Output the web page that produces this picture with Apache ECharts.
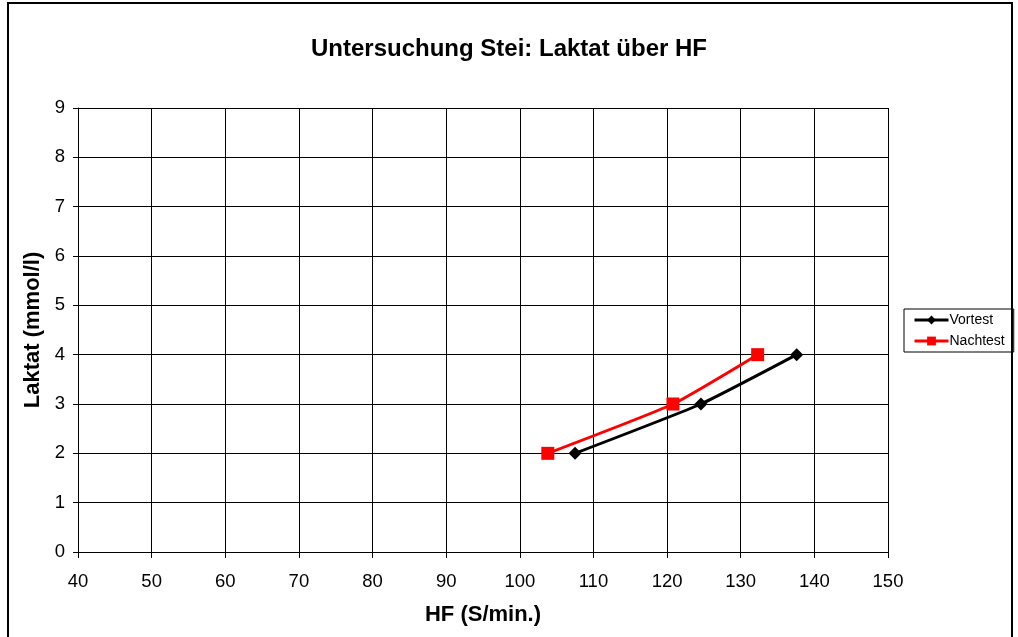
<!DOCTYPE html>
<html>
<head>
<meta charset="utf-8">
<script src="https://cdn.jsdelivr.net/npm/echarts@6/dist/echarts.min.js"></script>
<style>
  html, body { margin: 0; padding: 0; background: #fff; }
  #frame { position: absolute; left: 7px; top: 2px; width: 1006px; height: 650px; border: 2px solid #000; box-sizing: border-box; }
  #chart { position: absolute; left: 0; top: 0; width: 1018px; height: 637px; }
</style>
</head>
<body>
<div id="frame"></div>
<div id="chart"></div>
<script>
// Heart rate (S/min.) and lactate (mmol/l) for both test runs
const vortestHF = [107.5, 124.6, 137.6];
const vortestLaktat = [2, 3, 4];
const nachtestHF = [103.8, 120.8, 132.3];
const nachtestLaktat = [2, 3, 4];
const seriesNames = ['Vortest', 'Nachtest'];
const titleText = 'Untersuchung Stei: Laktat über HF';
const xName = 'HF (S/min.)';
const yName = 'Laktat (mmol/l)';

const font = 'Arial, "Liberation Sans", sans-serif';
const pairs = (xs, ys) => xs.map((x, i) => [x, ys[i]]);

const chart = echarts.init(document.getElementById('chart'), null, { renderer: 'canvas' });
chart.setOption({
  backgroundColor: 'transparent',
  animation: false,
  title: {
    text: titleText,
    left: 'center',
    top: 32,
    textStyle: { fontFamily: font, fontSize: 24, fontWeight: 'bold', color: '#000' }
  },
  legend: {
    left: 904,
    top: 309,
    orient: 'vertical',
    itemWidth: 34,
    itemHeight: 11,
    itemGap: 7,
    padding: [4, 9, 4, 9],
    borderColor: '#000',
    borderWidth: 1,
    borderRadius: 0,
    lineStyle: { width: 3 },
    textStyle: { fontFamily: font, fontSize: 14, color: '#000', padding: [0, 0, 0, -4] },
    data: seriesNames
  },
  grid: { left: 78, right: 130, top: 108, bottom: 85, containLabel: false },
  xAxis: {
    type: 'value',
    min: 40, max: 150, interval: 10,
    name: xName,
    nameLocation: 'middle',
    nameGap: 52,
    nameTextStyle: { fontFamily: font, fontSize: 22, fontWeight: 'bold', color: '#000' },
    axisLine: { show: true, lineStyle: { color: '#000', width: 1 } },
    axisTick: { show: true, length: 6, lineStyle: { color: '#000' } },
    axisLabel: { fontFamily: font, fontSize: 18.5, color: '#000', margin: 20 },
    splitLine: { show: true, lineStyle: { color: '#000', width: 1 } }
  },
  yAxis: {
    type: 'value',
    min: 0, max: 9, interval: 1,
    name: yName,
    nameLocation: 'middle',
    nameGap: 33,
    nameTextStyle: { fontFamily: font, fontSize: 22, fontWeight: 'bold', color: '#000' },
    axisLine: { show: true, lineStyle: { color: '#000', width: 1 } },
    axisTick: { show: true, length: 5, lineStyle: { color: '#000' } },
    axisLabel: { fontFamily: font, fontSize: 18.5, color: '#000', margin: 13 },
    splitLine: { show: true, lineStyle: { color: '#000', width: 1 } }
  },
  series: [
    {
      name: seriesNames[0],
      type: 'line',
      data: pairs(vortestHF, vortestLaktat),
      smooth: 0.15,
      symbol: 'diamond',
      symbolSize: 13,
      color: '#000',
      lineStyle: { width: 3, color: '#000' },
      itemStyle: { color: '#000' }
    },
    {
      name: seriesNames[1],
      type: 'line',
      data: pairs(nachtestHF, nachtestLaktat),
      smooth: 0.15,
      symbol: 'rect',
      symbolSize: 13,
      color: '#ff0000',
      lineStyle: { width: 3, color: '#ff0000' },
      itemStyle: { color: '#ff0000' }
    }
  ]
});
</script>
</body>
</html>
